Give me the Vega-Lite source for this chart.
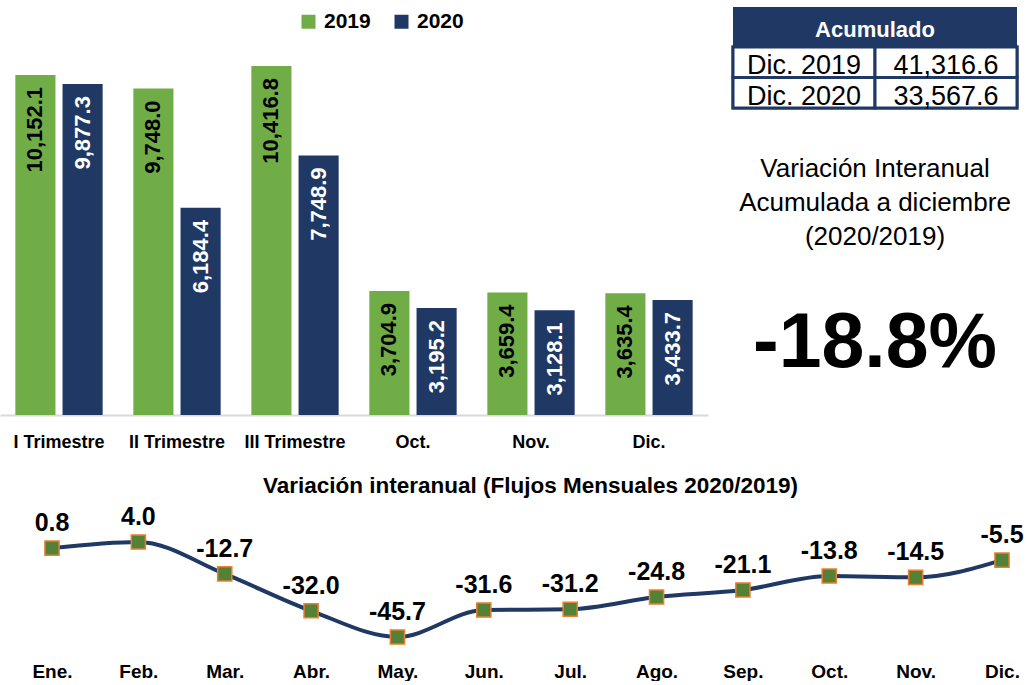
{
  "$schema": "https://vega.github.io/schema/vega-lite/v6.json",
  "padding": {"left": 0, "top": 7, "right": 0, "bottom": 0},
  "background": "white",
  "config": {
    "view": {"stroke": null},
    "font": "Liberation Sans",
    "locale": {"number": {"decimal": ".", "thousands": ",", "grouping": [3], "currency": ["$", ""], "minus": "-"}}
  },
  "spacing": 23,
  "vconcat": [
    {
      "spacing": 25,
      "bounds": "flush",
      "hconcat": [
        {
          "width": 708,
          "height": 408,
          "data": {"values": [
            {"periodo": "I Trimestre", "anio": "2019", "valor": 10152.1},
            {"periodo": "I Trimestre", "anio": "2020", "valor": 9877.3},
            {"periodo": "II Trimestre", "anio": "2019", "valor": 9748.0},
            {"periodo": "II Trimestre", "anio": "2020", "valor": 6184.4},
            {"periodo": "III Trimestre", "anio": "2019", "valor": 10416.8},
            {"periodo": "III Trimestre", "anio": "2020", "valor": 7748.9},
            {"periodo": "Oct.", "anio": "2019", "valor": 3704.9},
            {"periodo": "Oct.", "anio": "2020", "valor": 3195.2},
            {"periodo": "Nov.", "anio": "2019", "valor": 3659.4},
            {"periodo": "Nov.", "anio": "2020", "valor": 3128.1},
            {"periodo": "Dic.", "anio": "2019", "valor": 3635.4},
            {"periodo": "Dic.", "anio": "2020", "valor": 3433.7}
          ]},
          "encoding": {
            "x": {
              "field": "periodo", "type": "nominal",
              "sort": ["I Trimestre", "II Trimestre", "III Trimestre", "Oct.", "Nov.", "Dic."],
              "scale": {"paddingInner": 0.26, "paddingOuter": 0.13},
              "axis": {"title": null, "labelAngle": 0, "ticks": false, "domainColor": "#D9D9D9", "domainWidth": 2,
                       "labelFont": "Liberation Sans", "labelFontSize": 18,
                       "labelFontWeight": "bold", "labelColor": "black", "labelPadding": 18}
            },
            "xOffset": {"field": "anio", "type": "nominal", "scale": {"paddingInner": 0.15, "paddingOuter": 0}},
            "y": {"field": "valor", "type": "quantitative", "scale": {"domain": [0, 12179], "nice": false}, "axis": null}
          },
          "layer": [
            {
              "mark": {"type": "bar"},
              "encoding": {
                "color": {
                  "field": "anio", "type": "nominal",
                  "scale": {"range": ["#70AD47", "#203864"]},
                  "legend": {"title": null, "orient": "none", "legendX": 298, "legendY": 4, "direction": "horizontal",
                             "symbolType": "square", "symbolSize": 196, "symbolStrokeWidth": 0,
                             "labelFont": "Liberation Sans", "labelFontSize": 21,
                             "labelFontWeight": "bold", "labelColor": "black", "columnPadding": 20, "padding": 0, "labelOffset": 5}
                }
              }
            },
            {
              "mark": {"type": "text", "angle": 270, "align": "right", "baseline": "middle", "dx": -12,
                       "font": "Liberation Sans", "fontSize": 22, "fontWeight": "bold"},
              "encoding": {
                "text": {"field": "valor", "type": "quantitative", "format": ",.1f"},
                "color": {"condition": {"test": "datum.anio === '2020'", "value": "white"}, "value": "black"}
              }
            }
          ]
        },
        {
          "spacing": 0,
          "bounds": "flush",
          "vconcat": [
            {
              "width": 284,
              "height": 40,
              "view": {"fill": "#203864", "stroke": null},
              "data": {"values": [{"titulo": "Acumulado"}]},
              "mark": {"type": "text", "font": "Liberation Sans", "fontSize": 22,
                       "fontWeight": "bold", "color": "white", "baseline": "middle", "dy": 3},
              "encoding": {"text": {"field": "titulo", "type": "nominal"}}
            },
            {
              "width": 284,
              "height": 61,
              "view": {"fill": "#203864", "stroke": "#203864", "strokeWidth": 3},
              "data": {"values": [
                {"periodo": "Dic. 2019", "acumulado": 41316.6},
                {"periodo": "Dic. 2020", "acumulado": 33567.6}
              ]},
              "encoding": {
                "y": {"field": "periodo", "type": "nominal", "axis": null, "scale": {"paddingInner": 0, "paddingOuter": 0}}
              },
              "layer": [
                {
                  "mark": {"type": "rect", "fill": "white", "stroke": "#203864", "strokeWidth": 3},
                  "encoding": {"x": {"datum": "periodo", "type": "nominal",
                                     "scale": {"domain": ["periodo", "acumulado"], "paddingInner": 0, "paddingOuter": 0}, "axis": null}}
                },
                {
                  "mark": {"type": "rect", "fill": "white", "stroke": "#203864", "strokeWidth": 3},
                  "encoding": {"x": {"datum": "acumulado", "type": "nominal"}}
                },
                {
                  "mark": {"type": "text", "font": "Liberation Sans", "fontSize": 27,
                           "color": "black", "baseline": "middle", "dy": 4},
                  "encoding": {"x": {"datum": "periodo", "type": "nominal"}, "text": {"field": "periodo", "type": "nominal"}}
                },
                {
                  "mark": {"type": "text", "font": "Liberation Sans", "fontSize": 27,
                           "color": "black", "baseline": "middle", "dy": 4},
                  "encoding": {"x": {"datum": "acumulado", "type": "nominal"},
                               "text": {"field": "acumulado", "type": "quantitative", "format": ",.1f"}}
                }
              ]
            },
            {
              "width": 284,
              "height": 189.4,
              "data": {"values": [
                {"linea": "Variación Interanual"},
                {"linea": "Acumulada a diciembre"},
                {"linea": "(2020/2019)"}
              ]},
              "mark": {"type": "text", "font": "Liberation Sans", "fontSize": 26,
                       "baseline": "middle", "color": "black"},
              "encoding": {
                "y": {"field": "linea", "type": "nominal", "sort": null, "axis": null,
                      "scale": {"type": "point", "padding": 0, "range": [60.7, 128.7]}},
                "text": {"field": "linea", "type": "nominal"}
              }
            },
            {
              "width": 284,
              "height": 92.8,
              "data": {"values": [{"variacion": -0.188}]},
              "mark": {"type": "text", "font": "Liberation Sans", "fontSize": 77,
                       "fontWeight": "bold", "baseline": "middle", "color": "black"},
              "encoding": {"text": {"field": "variacion", "type": "quantitative", "format": ".1%"}}
            }
          ]
        }
      ]
    },
    {
      "width": 1027,
      "height": 150,
      "title": {"text": "Variación interanual (Flujos Mensuales 2020/2019)", "fontSize": 22.5, "fontWeight": "bold",
                "font": "Liberation Sans", "color": "black", "anchor": "middle", "dx": 17, "offset": 8},
      "data": {"values": [
        {"mes": "Ene.", "variacion": 0.8},
        {"mes": "Feb.", "variacion": 4.0},
        {"mes": "Mar.", "variacion": -12.7},
        {"mes": "Abr.", "variacion": -32.0},
        {"mes": "May.", "variacion": -45.7},
        {"mes": "Jun.", "variacion": -31.6},
        {"mes": "Jul.", "variacion": -31.2},
        {"mes": "Ago.", "variacion": -24.8},
        {"mes": "Sep.", "variacion": -21.1},
        {"mes": "Oct.", "variacion": -13.8},
        {"mes": "Nov.", "variacion": -14.5},
        {"mes": "Dic.", "variacion": -5.5}
      ]},
      "encoding": {
        "x": {"field": "mes", "type": "ordinal", "sort": null, "scale": {"type": "point", "padding": 0, "range": [52, 1002]},
              "axis": {"title": null, "labelAngle": 0, "ticks": false, "domain": false, "labelFont": "Liberation Sans",
                       "labelFontSize": 19, "labelFontWeight": "bold", "labelColor": "black", "labelPadding": 6}},
        "y": {"field": "variacion", "type": "quantitative", "scale": {"domain": [-55.65, 22.84], "nice": false, "zero": false}, "axis": null}
      },
      "layer": [
        {"mark": {"type": "line", "color": "#203864", "strokeWidth": 4, "interpolate": "monotone"}},
        {"mark": {"type": "point", "shape": "square", "filled": true, "size": 200, "fill": "#538135", "stroke": "#ED7D31",
                  "strokeWidth": 1.5, "opacity": 1}},
        {"mark": {"type": "text", "dy": -17, "baseline": "alphabetic", "fontSize": 25, "fontWeight": "bold", "color": "black"},
         "encoding": {"text": {"field": "variacion", "type": "quantitative", "format": ".1f"}}}
      ]
    }
  ]
}
